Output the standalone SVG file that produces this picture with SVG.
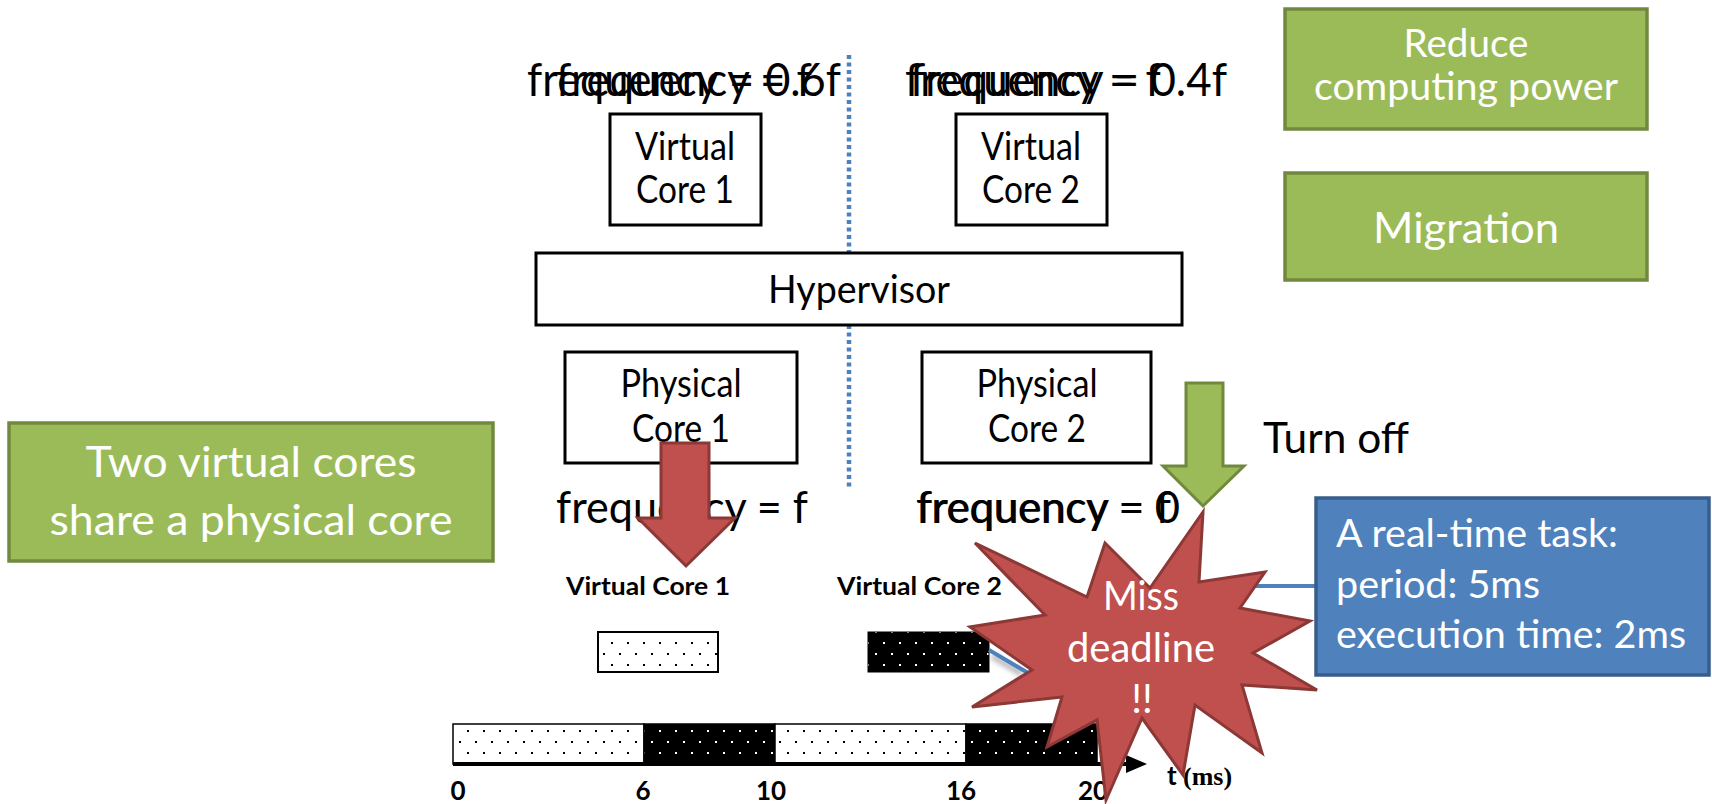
<svg xmlns="http://www.w3.org/2000/svg" width="1712" height="804" viewBox="0 0 1712 804">
  <defs>
    <style>
      .t{font-family:Lato,"Liberation Sans",sans-serif;fill:#000}
      .w{fill:#fff}
      .b{font-weight:700}
      .box{fill:#fff;stroke:#000;stroke-width:3}
      .gbox{fill:#9BBB59;stroke:#71893F;stroke-width:3.5}
      .bbox{fill:#4F81BD;stroke:#385D8A;stroke-width:3.5}
      .red{fill:#C0504D;stroke:#8C3836;stroke-width:3;stroke-linejoin:miter}
      .grn{fill:#9BBB59;stroke:#71893F;stroke-width:3}
      .seg{stroke:#000;stroke-width:1.5}
    </style>
    <pattern id="dotsW" width="16" height="22" patternUnits="userSpaceOnUse">
      <rect width="16" height="22" fill="#fff"/>
      <rect x="3" y="4" width="2" height="2" fill="#000"/>
      <rect x="11" y="15" width="2" height="2" fill="#000"/>
    </pattern>
    <pattern id="dotsB" width="16" height="22" patternUnits="userSpaceOnUse">
      <rect width="16" height="22" fill="#000"/>
      <rect x="3" y="4" width="2" height="2" fill="#fff"/>
      <rect x="11" y="15" width="2" height="2" fill="#fff"/>
    </pattern>
    <filter id="soft" x="-20%" y="-100%" width="140%" height="300%">
      <feGaussianBlur stdDeviation="2.5"/>
    </filter>
  </defs>

  <!-- side notes -->
  <g id="reduce">
    <rect class="gbox" x="1285" y="9" width="362" height="120"/>
    <text class="t w" x="1466" y="57" font-size="38" text-anchor="middle" textLength="125" lengthAdjust="spacingAndGlyphs">Reduce</text>
    <text class="t w" x="1466" y="100" font-size="38" text-anchor="middle" textLength="304" lengthAdjust="spacingAndGlyphs">computing power</text>
  </g>
  <g id="migration">
    <rect class="gbox" x="1285" y="173" width="362" height="107"/>
    <text class="t w" x="1466" y="243" font-size="42" text-anchor="middle" textLength="186" lengthAdjust="spacingAndGlyphs">Migration</text>
  </g>
  <g id="shared">
    <rect class="gbox" x="9" y="423" width="484" height="138"/>
    <text class="t w" x="251" y="477" font-size="43" text-anchor="middle" textLength="331" lengthAdjust="spacingAndGlyphs">Two virtual cores</text>
    <text class="t w" x="251" y="535" font-size="43" text-anchor="middle" textLength="403" lengthAdjust="spacingAndGlyphs">share a physical core</text>
  </g>

  <!-- frequency labels (overlapping states) -->
  <g id="freq-top-left">
    <text class="t" x="527" y="96" font-size="46" textLength="314" lengthAdjust="spacingAndGlyphs">frequency = 0.6f</text>
    <text class="t" x="556" y="96" font-size="46" textLength="256" lengthAdjust="spacingAndGlyphs">frequency = f</text>
  </g>
  <g id="freq-top-right">
    <text class="t" x="910" y="96" font-size="46" textLength="317" lengthAdjust="spacingAndGlyphs">frequency = 0.4f</text>
    <text class="t" x="905" y="96" font-size="46" textLength="256" lengthAdjust="spacingAndGlyphs">frequency = f</text>
  </g>

  <!-- divider -->
  <line x1="849" y1="55" x2="849" y2="490" stroke="#4F81BD" stroke-width="4.5" stroke-dasharray="4 3.5"/>

  <g id="vcore1">
    <rect class="box" x="610" y="114" width="151" height="111"/>
    <text class="t" x="685" y="160" font-size="38" text-anchor="middle" textLength="100" lengthAdjust="spacingAndGlyphs">Virtual</text>
    <text class="t" x="685" y="203" font-size="38" text-anchor="middle" textLength="98" lengthAdjust="spacingAndGlyphs">Core 1</text>
  </g>
  <g id="vcore2">
    <rect class="box" x="956" y="114" width="151" height="111"/>
    <text class="t" x="1031" y="160" font-size="38" text-anchor="middle" textLength="100" lengthAdjust="spacingAndGlyphs">Virtual</text>
    <text class="t" x="1031" y="203" font-size="38" text-anchor="middle" textLength="98" lengthAdjust="spacingAndGlyphs">Core 2</text>
  </g>
  <g id="hypervisor">
    <rect class="box" x="536" y="253" width="646" height="72"/>
    <text class="t" x="859" y="303" font-size="38" text-anchor="middle" textLength="182" lengthAdjust="spacingAndGlyphs">Hypervisor</text>
  </g>
  <g id="pcore1">
    <rect class="box" x="565" y="352" width="232" height="111"/>
    <text class="t" x="681" y="397" font-size="38" text-anchor="middle" textLength="121" lengthAdjust="spacingAndGlyphs">Physical</text>
    <text class="t" x="681" y="442" font-size="38" text-anchor="middle" textLength="98" lengthAdjust="spacingAndGlyphs">Core 1</text>
  </g>
  <g id="pcore2">
    <rect class="box" x="922" y="352" width="229" height="111"/>
    <text class="t" x="1037" y="397" font-size="38" text-anchor="middle" textLength="121" lengthAdjust="spacingAndGlyphs">Physical</text>
    <text class="t" x="1037" y="442" font-size="38" text-anchor="middle" textLength="98" lengthAdjust="spacingAndGlyphs">Core 2</text>
  </g>

  <g id="freq-bottom-left">
    <text class="t" x="556" y="523" font-size="44" textLength="252" lengthAdjust="spacingAndGlyphs">frequency = f</text>
  </g>
  <g id="freq-bottom-right">
    <text class="t" x="916" y="523" font-size="44" textLength="264" lengthAdjust="spacingAndGlyphs">frequency = 0</text>
    <text class="t" x="917" y="523" font-size="44" textLength="254" lengthAdjust="spacingAndGlyphs">frequency = f</text>
  </g>

  <g id="turn-off">
    <text class="t" x="1263" y="453" font-size="42" textLength="146" lengthAdjust="spacingAndGlyphs">Turn off</text>
  </g>

  <!-- block arrows -->
  <g id="arrows">
    <polygon class="red" points="661,443 709,443 709,518 735,518 686,566 638,518 661,518"/>
    <polygon class="grn" points="1186,383 1223,383 1223,466 1244,466 1203,506 1163,466 1186,466"/>
  </g>

  <!-- schedule -->
  <g id="vc-labels">
    <text class="t b" x="566" y="595" font-size="25" textLength="164" lengthAdjust="spacingAndGlyphs">Virtual Core 1</text>
    <text class="t b" x="837" y="595" font-size="25" textLength="165" lengthAdjust="spacingAndGlyphs">Virtual Core 2</text>
  </g>
  <g id="vc-blocks">
    <rect x="598" y="632" width="120" height="40" fill="url(#dotsW)" stroke="#000" stroke-width="2"/>
    <rect x="868" y="632" width="121" height="40" fill="url(#dotsB)" stroke="#000" stroke-width="1"/>
  </g>

  <g id="connectors">
    <path d="M992,656 L1022,674" stroke="#888" stroke-width="6" fill="none" opacity="0.6" filter="url(#soft)"/>
    <path d="M1240,593 L1316,593" stroke="#888" stroke-width="7" fill="none" opacity="0.6" filter="url(#soft)"/>
    <path d="M989,650 L1040,680 L1230,586 L1316,586" stroke="#4F81BD" stroke-width="4" fill="none"/>
  </g>

  <g id="timeline">
    <rect class="seg" x="453" y="724" width="191" height="40" fill="url(#dotsW)"/>
    <rect class="seg" x="644" y="724" width="131" height="40" fill="url(#dotsB)"/>
    <rect class="seg" x="775" y="724" width="191" height="40" fill="url(#dotsW)"/>
    <rect class="seg" x="966" y="724" width="131" height="40" fill="url(#dotsB)"/>
    <line x1="453" y1="764" x2="1130" y2="764" stroke="#000" stroke-width="4"/>
    <polygon points="1126,755 1147,764 1126,773" fill="#000"/>
    <g class="t b" font-size="26" text-anchor="middle">
      <text x="458" y="800">0</text>
      <text x="643" y="800">6</text>
      <text x="771" y="800">10</text>
      <text x="961" y="800">16</text>
      <text x="1093" y="800">20</text>
    </g>
    <text x="1167" y="785" font-size="26" font-weight="700"><tspan font-family="Lato,'Liberation Sans',sans-serif">t </tspan><tspan font-family="'Liberation Serif',serif">(ms)</tspan></text>
  </g>

  <g id="task">
    <rect class="bbox" x="1316" y="498" width="393" height="177"/>
    <text class="t w" x="1336" y="547" font-size="38" textLength="282" lengthAdjust="spacingAndGlyphs">A real-time task:</text>
    <text class="t w" x="1336" y="598" font-size="38" textLength="204" lengthAdjust="spacingAndGlyphs">period: 5ms</text>
    <text class="t w" x="1336" y="648" font-size="38" textLength="350" lengthAdjust="spacingAndGlyphs">execution time: 2ms</text>
  </g>

  <g id="miss">
    <polygon class="red" points="1203,512 1199,582 1265,572 1240,608 1310,621 1253,653 1317,690 1242,685 1262,753 1195,705 1183,775 1142,718 1106,800 1097,720 1047,747 1062,697 972,707 1032,670 970,627 1045,615 975,543 1087,597 1105,543 1150,588"/>
    <text class="t w" x="1141" y="610" font-size="40" text-anchor="middle" textLength="76" lengthAdjust="spacingAndGlyphs">Miss</text>
    <text class="t w" x="1141" y="662" font-size="40" text-anchor="middle" textLength="148" lengthAdjust="spacingAndGlyphs">deadline</text>
    <text class="t w" x="1142" y="713" font-size="40" text-anchor="middle">!!</text>
  </g>
</svg>
